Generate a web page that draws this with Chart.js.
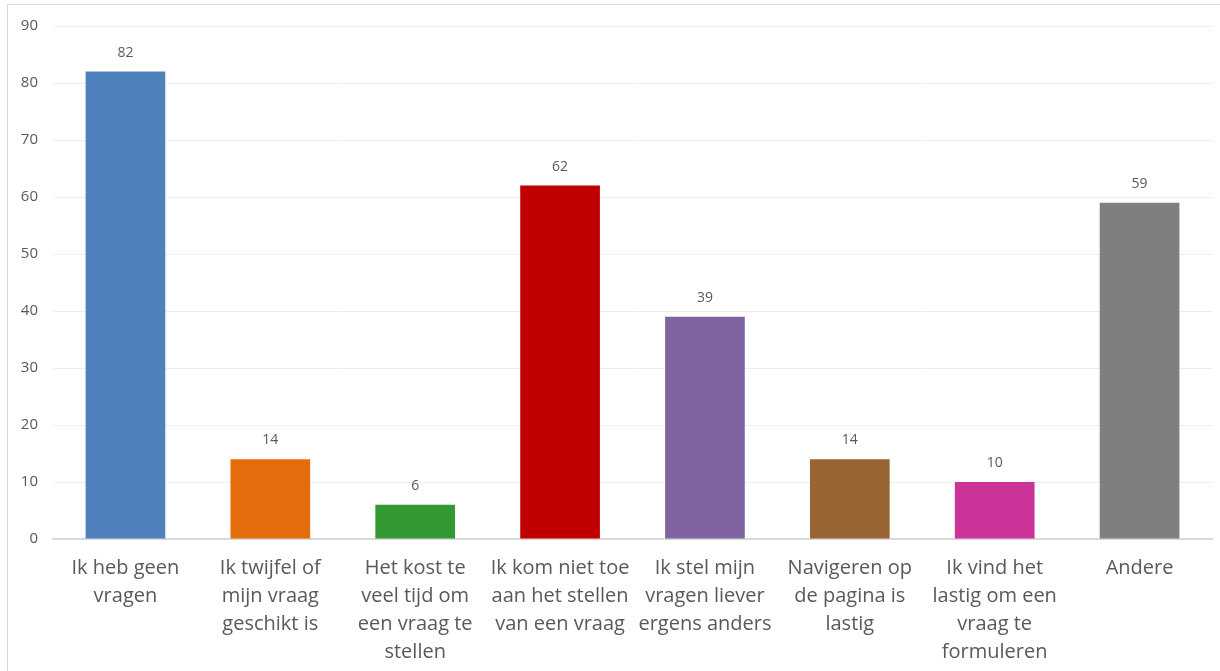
<!DOCTYPE html>
<html>
<head>
<meta charset="utf-8">
<script src="https://cdn.jsdelivr.net/npm/chart.js@4"></script>
<style>
  body { margin: 0; background: #fff; }
  #frame {
    position: absolute; left: 7px; top: 4px; width: 1230px; height: 680px;
    border: 1px solid #d9d9d9; box-sizing: border-box;
  }
  #wrap { position: absolute; left: 8px; top: 2px; width: 1212px; height: 669px; }
</style>
</head>
<body>
<div id="frame"></div>
<div id="wrap"><canvas id="chart"></canvas></div>
<script>
const categories = [
  ["Ik heb geen", "vragen"],
  ["Ik twijfel of", "mijn vraag", "geschikt is"],
  ["Het kost te", "veel tijd om", "een vraag te", "stellen"],
  ["Ik kom niet toe", "aan het stellen", "van een vraag"],
  ["Ik stel mijn", "vragen liever", "ergens anders"],
  ["Navigeren op", "de pagina is", "lastig"],
  ["Ik vind het", "lastig om een", "vraag te", "formuleren"],
  ["Andere"]
];
const values = [82, 14, 6, 62, 39, 14, 10, 59];
const barColors = ["#4F81BD", "#E46C0A", "#339933", "#C00000", "#8064A2", "#996633", "#CC3399", "#7F7F7F"];
const yTicks = [0, 10, 20, 30, 40, 50, 60, 70, 80, 90];

const fontFamily = "'Open Sans', 'Noto Sans', sans-serif";
const textColor = "#595959";

// waarden boven de balken
const valueLabels = {
  id: "valueLabels",
  afterDatasetsDraw(chart) {
    const ctx = chart.ctx;
    const meta = chart.getDatasetMeta(0);
    ctx.save();
    ctx.font = "14px " + fontFamily;
    ctx.fillStyle = textColor;
    ctx.textAlign = "center";
    ctx.textBaseline = "middle";
    meta.data.forEach((bar, i) => {
      ctx.fillText(values[i], bar.x, bar.y - 19);
    });
    ctx.restore();
  }
};

new Chart(document.getElementById("chart"), {
  type: "bar",
  data: {
    labels: categories,
    datasets: [{
      data: values,
      backgroundColor: barColors,
      borderWidth: 0,
      categoryPercentage: 1,
      barPercentage: 0.55
    }]
  },
  options: {
    responsive: true,
    maintainAspectRatio: false,
    animation: false,
    layout: { padding: { top: 7, right: 8, left: 0, bottom: 0 } },
    plugins: {
      legend: { display: false },
      tooltip: { enabled: false }
    },
    scales: {
      x: {
        grid: { display: false, drawTicks: false },
        border: { color: "#d9d9d9", width: 2 },
        ticks: {
          color: textColor,
          font: { family: fontFamily, size: 20, lineHeight: 1.4 },
          padding: 15,
          maxRotation: 0,
          autoSkip: false
        },
        afterFit: s => { s.height = 132; }
      },
      y: {
        min: 0,
        max: 90,
        afterBuildTicks: s => { s.ticks = yTicks.map(v => ({ value: v })); },
        grid: { color: "#eeeeee", drawTicks: false },
        border: { display: false },
        ticks: {
          color: textColor,
          font: { family: fontFamily, size: 15 },
          padding: 15
        },
        afterFit: s => { s.width = 45; }
      }
    }
  },
  plugins: [valueLabels]
});
</script>
</body>
</html>
